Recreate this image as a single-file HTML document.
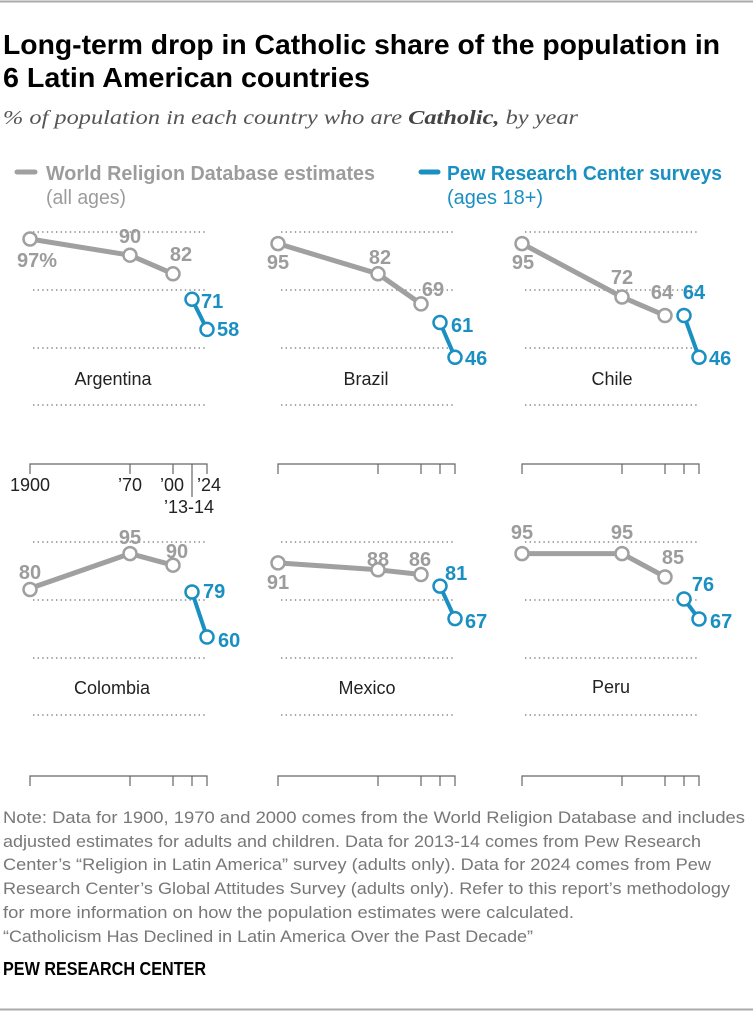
<!DOCTYPE html>
<html><head><meta charset="utf-8"><style>
html,body{margin:0;padding:0;background:#fff;}
svg{display:block;}
.t{font-family:"Liberation Sans Narrow","Liberation Sans",sans-serif;}
.g{fill:#9c9c9c;font-family:"Liberation Sans",sans-serif;font-weight:bold;font-size:20px;}
.b{fill:#1a8fc2;font-family:"Liberation Sans",sans-serif;font-weight:bold;font-size:20px;}
.c{fill:#222;font-family:"Liberation Sans",sans-serif;font-size:18px;text-anchor:middle;}
.y{fill:#222;font-family:"Liberation Sans",sans-serif;font-size:18px;text-anchor:middle;}
.n{fill:#777;font-family:"Liberation Sans Narrow","Liberation Sans",sans-serif;font-size:17px;}
.grid{stroke:#888;stroke-width:1.6;stroke-dasharray:1.4 3.2;}
.gl{stroke:#a0a0a0;stroke-width:5;fill:none;stroke-linejoin:round;}
.bl{stroke:#1a8fc2;stroke-width:4;fill:none;}
.gd{fill:#fff;stroke:#a0a0a0;stroke-width:2.5;}
.bd{fill:#fff;stroke:#1a8fc2;stroke-width:2.5;}
.ax{stroke:#666;stroke-width:1.2;fill:none;}
</style></head><body>
<svg width="753" height="1011" viewBox="0 0 753 1011" xmlns="http://www.w3.org/2000/svg">
<line x1="0" y1="1.5" x2="753" y2="1.5" stroke="#aaa" stroke-width="2"/>
<line x1="0" y1="1009.5" x2="753" y2="1009.5" stroke="#aaa" stroke-width="2"/>
<text class="t" x="3" y="54" font-size="28" font-weight="bold" fill="#000" textLength="717" lengthAdjust="spacingAndGlyphs">Long-term drop in Catholic share of the population in</text>
<text class="t" x="3" y="87" font-size="28" font-weight="bold" fill="#000" textLength="367" lengthAdjust="spacingAndGlyphs">6 Latin American countries</text>
<text x="3" y="124" font-family="Liberation Serif,serif" font-style="italic" font-size="20" fill="#555" textLength="575" lengthAdjust="spacingAndGlyphs">% of population in each country who are <tspan font-weight="bold" fill="#444">Catholic,</tspan> by year</text>
<line x1="17" y1="172" x2="35" y2="172" stroke="#a0a0a0" stroke-width="5" stroke-linecap="round"/>
<text class="t" x="46" y="180" font-size="20" font-weight="bold" fill="#9c9c9c" textLength="329" lengthAdjust="spacingAndGlyphs">World Religion Database estimates</text>
<text class="t" x="46" y="204" font-size="20" fill="#9c9c9c" textLength="80" lengthAdjust="spacingAndGlyphs">(all ages)</text>
<line x1="421" y1="172" x2="438" y2="172" stroke="#1a8fc2" stroke-width="5" stroke-linecap="round"/>
<text class="t" x="447" y="180" font-size="20" font-weight="bold" fill="#1a8fc2" textLength="275" lengthAdjust="spacingAndGlyphs">Pew Research Center surveys</text>
<text class="t" x="447" y="204" font-size="20" fill="#1a8fc2" textLength="96" lengthAdjust="spacingAndGlyphs">(ages 18+)</text>

<g class="grid">
<line x1="33" y1="232" x2="206" y2="232"/><line x1="33" y1="290" x2="206" y2="290"/><line x1="33" y1="348" x2="206" y2="348"/><line x1="33" y1="405" x2="206" y2="405"/>
<line x1="281" y1="232" x2="454" y2="232"/><line x1="281" y1="290" x2="454" y2="290"/><line x1="281" y1="348" x2="454" y2="348"/><line x1="281" y1="405" x2="454" y2="405"/>
<line x1="525" y1="232" x2="698" y2="232"/><line x1="525" y1="290" x2="698" y2="290"/><line x1="525" y1="348" x2="698" y2="348"/><line x1="525" y1="405" x2="698" y2="405"/>
<line x1="33" y1="542" x2="206" y2="542"/><line x1="33" y1="600" x2="206" y2="600"/><line x1="33" y1="658" x2="206" y2="658"/><line x1="33" y1="715" x2="206" y2="715"/>
<line x1="281" y1="542" x2="454" y2="542"/><line x1="281" y1="600" x2="454" y2="600"/><line x1="281" y1="658" x2="454" y2="658"/><line x1="281" y1="715" x2="454" y2="715"/>
<line x1="525" y1="542" x2="698" y2="542"/><line x1="525" y1="600" x2="698" y2="600"/><line x1="525" y1="658" x2="698" y2="658"/><line x1="525" y1="715" x2="698" y2="715"/>
</g>

<g class="ax">
<path d="M30 474V464H207V474M130 464V474M173 464V474M192 464V497"/>
<path d="M278 474V464H455V474M378 464V474M421 464V474M440 464V474"/>
<path d="M522 474V464H699V474M622 464V474M665 464V474M684 464V474"/>
<path d="M30 786V776H207V786M130 776V786M173 776V786M192 776V786"/>
<path d="M278 786V776H455V786M378 776V786M421 776V786M440 776V786"/>
<path d="M522 786V776H699V786M622 776V786M665 776V786M684 776V786"/>
</g>
<text class="y" x="30" y="491">1900</text>
<text class="y" x="130" y="491">’70</text>
<text class="y" x="172" y="491">’00</text>
<text class="y" x="209" y="491">’24</text>
<text class="y" x="189" y="513">’13-14</text>

<polyline class="gl" points="30,239 130,255.2 173,273.8"/>
<line class="bl" x1="192" y1="299.3" x2="207" y2="329.4"/>
<circle class="gd" cx="30" cy="239" r="6.5"/><circle class="gd" cx="130" cy="255.2" r="6.5"/><circle class="gd" cx="173" cy="273.8" r="6.5"/>
<circle class="bd" cx="192" cy="299.3" r="6.5"/><circle class="bd" cx="207" cy="329.4" r="6.5"/>
<text class="g" x="37" y="267" text-anchor="middle">97%</text>
<text class="g" x="130" y="243" text-anchor="middle">90</text>
<text class="g" x="181" y="261" text-anchor="middle">82</text>
<text class="b" x="201" y="308">71</text>
<text class="b" x="217" y="336">58</text>
<text class="c" x="113" y="385">Argentina</text>

<polyline class="gl" points="278,243.6 378,273.8 421,303.9"/>
<line class="bl" x1="440" y1="322.5" x2="455" y2="357.3"/>
<circle class="gd" cx="278" cy="243.6" r="6.5"/><circle class="gd" cx="378" cy="273.8" r="6.5"/><circle class="gd" cx="421" cy="303.9" r="6.5"/>
<circle class="bd" cx="440" cy="322.5" r="6.5"/><circle class="bd" cx="455" cy="357.3" r="6.5"/>
<text class="g" x="278" y="269" text-anchor="middle">95</text>
<text class="g" x="380" y="264" text-anchor="middle">82</text>
<text class="g" x="433" y="296" text-anchor="middle">69</text>
<text class="b" x="451" y="332">61</text>
<text class="b" x="465" y="365">46</text>
<text class="c" x="366" y="385">Brazil</text>

<polyline class="gl" points="522,243.6 622,297 665,315.5"/>
<line class="bl" x1="684" y1="315.5" x2="699" y2="357.3"/>
<circle class="gd" cx="522" cy="243.6" r="6.5"/><circle class="gd" cx="622" cy="297" r="6.5"/><circle class="gd" cx="665" cy="315.5" r="6.5"/>
<circle class="bd" cx="684" cy="315.5" r="6.5"/><circle class="bd" cx="699" cy="357.3" r="6.5"/>
<text class="g" x="523" y="269" text-anchor="middle">95</text>
<text class="g" x="622" y="284" text-anchor="middle">72</text>
<text class="g" x="662" y="299" text-anchor="middle">64</text>
<text class="b" x="694" y="299" text-anchor="middle">64</text>
<text class="b" x="709" y="365">46</text>
<text class="c" x="612" y="385">Chile</text>

<polyline class="gl" points="30,588.4 130,553.6 173,565.2"/>
<line class="bl" x1="192" y1="592" x2="207" y2="637"/>
<circle class="gd" cx="30" cy="589.5" r="6.5"/><circle class="gd" cx="130" cy="553.6" r="6.5"/><circle class="gd" cx="173" cy="565.2" r="6.5"/>
<circle class="bd" cx="192" cy="592" r="6.5"/><circle class="bd" cx="207" cy="637" r="6.5"/>
<text class="g" x="30" y="579" text-anchor="middle">80</text>
<text class="g" x="130" y="544" text-anchor="middle">95</text>
<text class="g" x="177" y="558" text-anchor="middle">90</text>
<text class="b" x="203" y="598">79</text>
<text class="b" x="218" y="647">60</text>
<text class="c" x="112" y="694">Colombia</text>

<polyline class="gl" points="278,562.9 378,569.8 421,574.5"/>
<line class="bl" x1="440" y1="586.1" x2="455" y2="618.6"/>
<circle class="gd" cx="278" cy="562.9" r="6.5"/><circle class="gd" cx="378" cy="569.8" r="6.5"/><circle class="gd" cx="421" cy="574.5" r="6.5"/>
<circle class="bd" cx="440" cy="586.1" r="6.5"/><circle class="bd" cx="455" cy="618.6" r="6.5"/>
<text class="g" x="278" y="589" text-anchor="middle">91</text>
<text class="g" x="378" y="566" text-anchor="middle">88</text>
<text class="g" x="420" y="566" text-anchor="middle">86</text>
<text class="b" x="445" y="580">81</text>
<text class="b" x="465" y="628">67</text>
<text class="c" x="367" y="694">Mexico</text>

<polyline class="gl" points="522,553.6 622,553.6 665,576.8"/>
<line class="bl" x1="684" y1="599" x2="699" y2="619"/>
<circle class="gd" cx="522" cy="553.6" r="6.5"/><circle class="gd" cx="622" cy="553.6" r="6.5"/><circle class="gd" cx="665" cy="577" r="6.5"/>
<circle class="bd" cx="684" cy="599" r="6.5"/><circle class="bd" cx="699" cy="619" r="6.5"/>
<text class="g" x="522" y="539" text-anchor="middle">95</text>
<text class="g" x="622" y="539" text-anchor="middle">95</text>
<text class="g" x="673" y="564" text-anchor="middle">85</text>
<text class="b" x="703" y="591" text-anchor="middle">76</text>
<text class="b" x="710" y="628">67</text>
<text class="c" x="611" y="693">Peru</text>

<text class="n" x="3" y="823" textLength="742" lengthAdjust="spacingAndGlyphs">Note: Data for 1900, 1970 and 2000 comes from the World Religion Database and includes</text>
<text class="n" x="3" y="847" textLength="698" lengthAdjust="spacingAndGlyphs">adjusted estimates for adults and children. Data for 2013-14 comes from Pew Research</text>
<text class="n" x="3" y="870" textLength="708" lengthAdjust="spacingAndGlyphs">Center’s “Religion in Latin America” survey (adults only). Data for 2024 comes from Pew</text>
<text class="n" x="3" y="894" textLength="727" lengthAdjust="spacingAndGlyphs">Research Center’s Global Attitudes Survey (adults only). Refer to this report’s methodology</text>
<text class="n" x="3" y="918" textLength="571" lengthAdjust="spacingAndGlyphs">for more information on how the population estimates were calculated.</text>
<text class="n" x="3" y="942" textLength="530" lengthAdjust="spacingAndGlyphs">“Catholicism Has Declined in Latin America Over the Past Decade”</text>
<text class="t" x="3" y="975" font-size="18" font-weight="bold" fill="#000" textLength="203" lengthAdjust="spacingAndGlyphs">PEW RESEARCH CENTER</text>
</svg>
</body></html>
